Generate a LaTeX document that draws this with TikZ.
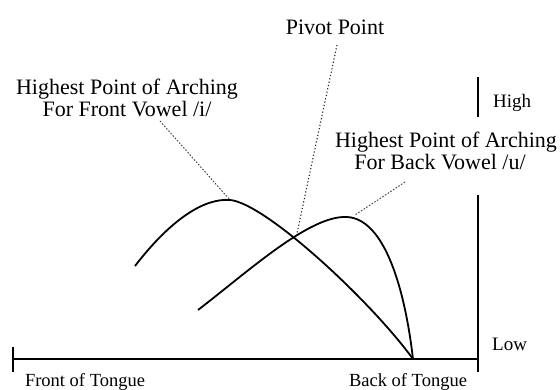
\documentclass[tikz,border=0pt]{standalone}
\usepackage{fontspec}
\setmainfont{Liberation Serif}
\begin{document}
\begin{tikzpicture}[x=1pt,y=-1pt,
  lbl/.style={inner sep=0pt,anchor=base,font=\fontsize{22}{23}\selectfont},
  axlbl/.style={inner sep=0pt,anchor=base,font=\fontsize{18.5}{20}\selectfont},
  hl/.style={inner sep=0pt,anchor=base west,font=\fontsize{19}{20}\selectfont},
  curve/.style={line width=1.8pt,black},
  axis/.style={line width=1.6pt,black},
  leader/.style={line width=0.9pt,black!75,dash pattern=on 1.6pt off 1.6pt},
  pivotlead/.style={line width=1.1pt,black!85,dash pattern=on 1.2pt off 2.2pt}]
\useasboundingbox (0,0) rectangle (560,390);
% axes
\coordinate (axL) at (13,359);
\coordinate (axR) at (478,359);
\coordinate (tickT) at (13,347);
\coordinate (tickB) at (13,372);
\coordinate (vT) at (478,195);
\coordinate (vB) at (478,372);
\coordinate (hT) at (478,77);
\coordinate (hB) at (478,117);
\draw[axis] (axL) -- (axR);
\draw[axis] (tickT) -- (tickB);
\draw[axis] (vT) -- (vB);
\draw[axis] (hT) -- (hB);
% curves
\coordinate (fS) at (135,266);
\coordinate (fP) at (230,200);
\coordinate (bS) at (198,310);
\coordinate (bP) at (347,217);
\coordinate (E) at (413,359);
\coordinate (piv) at (296,238);
\draw[curve] (fS) .. controls (172,218) and (205,198) .. (fP)
  .. controls (265,203) and (370,300) .. (E);
\draw[curve] (bS) .. controls (250,270) and (310,215) .. (bP)
  .. controls (385,219) and (405,290) .. (E);
% labels
\node[lbl] (pivot) at (335,35) {Pivot Point};
\node[lbl] (front1) at (127,95) {Highest Point of Arching};
\node[lbl] (front2) at (127,117) {For Front Vowel /i/};
\node[lbl] (back1) at (446,148) {Highest Point of Arching};
\node[lbl] (back2) at (440,170) {For Back Vowel /u/};
\node[hl] (high) at (493,108) {High};
\node[hl] (low) at (492,351) {Low};
\node[axlbl] (ftong) at (85,386) {Front of Tongue};
\node[axlbl] (btong) at (408,386) {Back of Tongue};
% leaders
\coordinate (pl) at (337,45);
\coordinate (fl) at (160,121);
\coordinate (bl) at (405,182);
\coordinate (bh) at (355,215);
\draw[pivotlead] (pl) -- (piv);
\draw[leader] (fl) -- (fP);
\draw[leader] (bl) -- (bh);
\end{tikzpicture}
\end{document}
